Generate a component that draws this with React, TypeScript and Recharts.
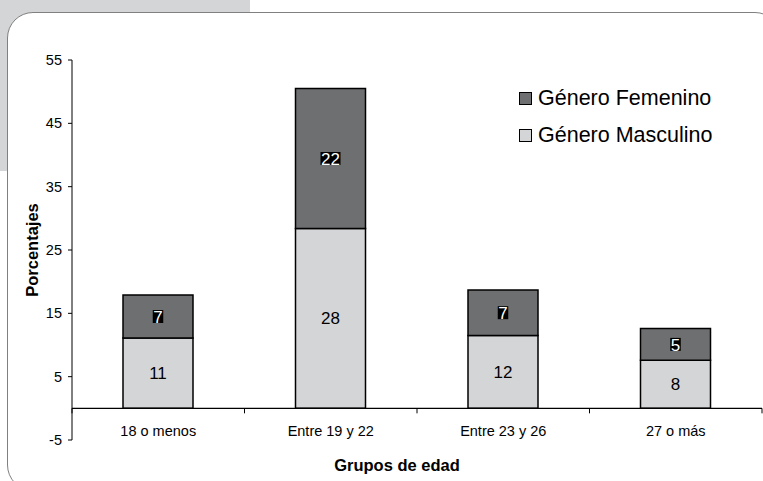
import { BarChart, Bar, XAxis, YAxis, Legend, LabelList, ReferenceLine } from "recharts"

const categories = ["18 o menos", "Entre 19 y 22", "Entre 23 y 26", "27 o más"]
const masculino = [11.1, 28.4, 11.5, 7.6]
const femenino = [6.8, 22.1, 7.2, 5.0]
const yTicks = [-5, 5, 15, 25, 35, 45, 55]

const series = [
  { key: "femenino", name: "Género Femenino", fill: "#6e6f71" },
  { key: "masculino", name: "Género Masculino", fill: "#d4d5d7" },
]

const data = categories.map((c, i) => ({ name: c, masculino: masculino[i], femenino: femenino[i] }))

const font = "'Liberation Sans', Arial, sans-serif"

function XTick(props: any) {
  const { x, y, payload } = props
  return (
    <text x={x} y={y - 4} textAnchor="middle" fontSize={14.5} fill="#000" fontFamily={font}>
      {payload.value}
    </text>
  )
}

// zero line with the category boundary ticks hanging below it
function ZeroLine(props: any) {
  const { x1, y1, x2, y2 } = props
  const n = categories.length
  const marks = []
  for (let i = 0; i <= n; i++) {
    const x = x1 + ((x2 - x1) * i) / n
    marks.push(<line key={i} x1={x} y1={y1} x2={x} y2={y1 + 5} stroke="#000" strokeWidth={1} />)
  }
  return (
    <g>
      <line x1={x1} y1={y1} x2={x2} y2={y2} stroke="#000" strokeWidth={1.2} />
      {marks}
    </g>
  )
}

function DarkLabel(props: any) {
  const { x, y, width, height, value } = props
  const txt = String(Math.round(value))
  const cx = x + width / 2
  const cy = y + height / 2
  const w = txt.length * 9.5 + 1
  return (
    <g>
      <rect x={cx - w / 2} y={cy - 6.5} width={w} height={13} fill="#000" />
      <text x={cx} y={cy + 6.5} textAnchor="middle" fontSize={17} fill="#fff" fontFamily={font}>
        {txt}
      </text>
    </g>
  )
}

function LightLabel(props: any) {
  const { x, y, width, height, value } = props
  return (
    <text x={x + width / 2} y={y + height / 2 + 6} textAnchor="middle" fontSize={17} fill="#000" fontFamily={font}>
      {Math.round(value)}
    </text>
  )
}

function LegendBox() {
  return (
    <div style={{ fontFamily: font, fontSize: 21.5, color: "#000", lineHeight: 1, textAlign: "left" }}>
      {series.map((s) => (
        <div key={s.key} style={{ display: "flex", alignItems: "center", height: 37 }}>
          <span
            style={{
              display: "inline-block",
              width: 11,
              height: 11,
              background: s.fill,
              border: "1.5px solid #000",
              marginRight: 6,
            }}
          />
          <span>{s.name}</span>
        </div>
      ))}
    </div>
  )
}

export default function App() {
  return (
    <div style={{ position: "absolute", left: 0, top: 0, width: 763, height: 481, overflow: "hidden", background: "#fff" }}>
      <div style={{ position: "absolute", left: 0, top: 0, width: 250, height: 171, background: "#d4d5d7" }} />
      <div
        style={{
          position: "absolute",
          left: 7,
          top: 12,
          width: 772,
          height: 477,
          border: "1.3px solid #808080",
          borderRadius: 26,
          background: "#fff",
        }}
      />
      <div style={{ position: "absolute", left: 0, top: 0 }}>
        <BarChart width={763} height={481} data={data} margin={{ top: 60, right: 1, bottom: 5, left: 32 }}>
          <XAxis
            dataKey="name"
            axisLine={false}
            tickLine={false}
            tickSize={0}
            tickMargin={0}
            height={36}
            tick={<XTick />}
            label={{ value: "Grupos de edad", position: "insideBottom", offset: 5, dx: -20, fontSize: 16.5, fontWeight: "bold", fill: "#000", fontFamily: font }}
          />
          <YAxis
            domain={[-5, 55]}
            ticks={yTicks}
            interval={0}
            width={40}
            axisLine={{ stroke: "#000", strokeWidth: 1 }}
            tickLine={{ stroke: "#000" }}
            tickSize={4}
            tickMargin={6}
            tick={{ fontSize: 14.5, fill: "#000", fontFamily: font }}
            label={{ value: "Porcentajes", angle: -90, position: "insideLeft", dx: -5, dy: 0, fontSize: 16.5, fontWeight: "bold", fill: "#000", fontFamily: font, style: { textAnchor: "middle" } }}
          />
          <Legend
            layout="horizontal"
            verticalAlign="middle"
            align="center"
            content={<LegendBox />}
            wrapperStyle={{ position: "absolute", left: 519, top: 80, width: 240 }}
          />
          <Bar dataKey="masculino" name="Género Masculino" stackId="a" fill="#d4d5d7" stroke="#000" strokeWidth={1.5} barSize={70} isAnimationActive={false}>
            <LabelList dataKey="masculino" content={<LightLabel />} />
          </Bar>
          <Bar dataKey="femenino" name="Género Femenino" stackId="a" fill="#6e6f71" stroke="#000" strokeWidth={1.5} barSize={70} isAnimationActive={false}>
            <LabelList dataKey="femenino" content={<DarkLabel />} />
          </Bar>
          <ReferenceLine y={0} shape={<ZeroLine />} />
        </BarChart>
      </div>
    </div>
  )
}
